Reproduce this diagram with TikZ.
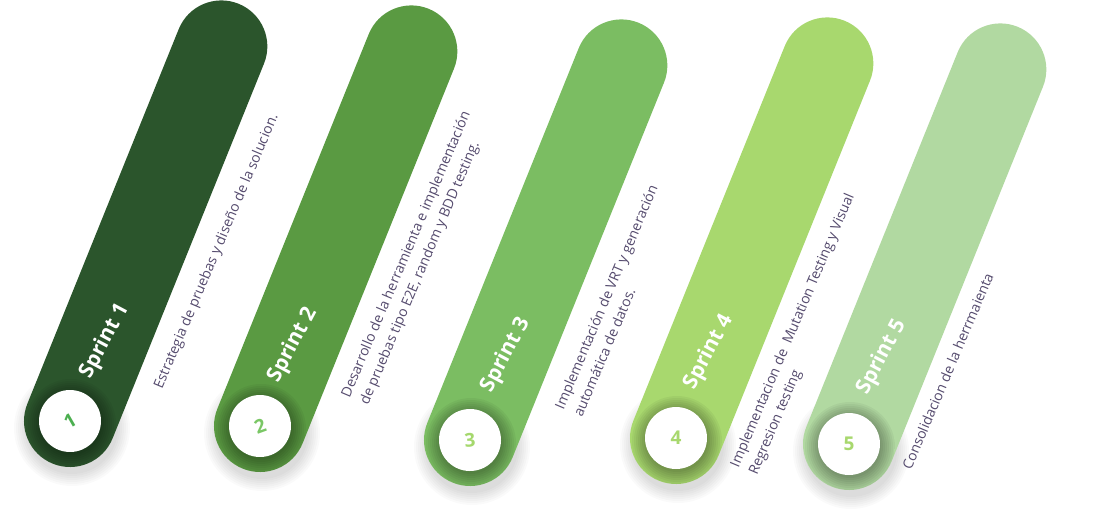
\documentclass[tikz,border=0pt]{standalone}
\usepackage{fontspec}
\setmainfont{Open Sans}
\usetikzlibrary{calc}
\definecolor{pillA}{HTML}{2B552C}
\definecolor{pillB}{HTML}{5A9A42}
\definecolor{pillC}{HTML}{7BBD62}
\definecolor{pillD}{HTML}{A8D86E}
\definecolor{pillE}{HTML}{B1D9A1}
\definecolor{numA}{HTML}{4CAF50}
\definecolor{numB}{HTML}{7AC765}
\definecolor{numC}{HTML}{A5D86D}
\definecolor{desctext}{RGB}{85,75,110}
\tikzset{
  pillbox/.style={rectangle, rounded corners=46pt, minimum width=496pt, minimum height=92pt,
    inner sep=0pt, rotate=68, draw=none},
  numcircle/.style={circle, fill=white, minimum size=62pt, inner sep=0pt,
    font=\fontsize{19}{19}\selectfont\bfseries},
  sprintlabel/.style={text=white, font=\fontsize{21}{21}\selectfont\bfseries, rotate=62, inner sep=0pt},
  desc/.style={text=desctext, font=\fontsize{14}{20}\selectfont, rotate=67, inner sep=0pt,
    anchor=base west, align=left},
  shadowring/.style={fill=black, fill opacity=0.045},
  outershadow/.style={fill=black, fill opacity=0.018}
}
\begin{document}
\begin{tikzpicture}[x=1pt,y=1pt]
\fill[white] (0,0) rectangle (1096,-525);
\useasboundingbox (0,0) rectangle (1096,-525);

\coordinate (b1) at (70,-421);
\coordinate (b2) at (260,-426);
\coordinate (b3) at (470,-440);
\coordinate (b4) at (676,-438);
\coordinate (b5) at (849,-444);

% soft drop shadow under the bottom caps
\foreach \i in {1,...,5}{
  \foreach \r in {46,48,...,58}
    \fill[outershadow] ($(b\i)+(2,-7)$) circle (\r);
}

% pills
\node[pillbox, fill=pillA] (p1) at ($(b1)+(68:202)$) {};
\node[pillbox, fill=pillB] (p2) at ($(b2)+(68:202)$) {};
\node[pillbox, fill=pillC] (p3) at ($(b3)+(68:202)$) {};
\node[pillbox, fill=pillD] (p4) at ($(b4)+(68:202)$) {};
\node[pillbox, fill=pillE] (p5) at ($(b5)+(68:202)$) {};

% soft shadow inside the bottom cap, around the number discs
\foreach \i in {1,...,5}{
  \begin{scope}
    \clip (b\i) circle (46);
    \foreach \r in {31,33,...,45}
      \fill[shadowring] ($(b\i)+(1,-3)$) circle (\r);
  \end{scope}
}

% number discs
\node[numcircle, text=numA, rotate=30] (n1) at (b1) {1};
\node[numcircle, text=numB, rotate=20] (n2) at (b2) {2};
\node[numcircle, text=numC, rotate=5] (n3) at (b3) {3};
\node[numcircle, text=pillD] (n4) at (b4) {4};
\node[numcircle, text=pillD] (n5) at (b5) {5};

% sprint labels
\node[sprintlabel] (s1) at (105,-341) {Sprint 1};
\node[sprintlabel] (s2) at (293,-345) {Sprint 2};
\node[sprintlabel] (s3) at (506,-355) {Sprint 3};
\node[sprintlabel] (s4) at (709,-352) {Sprint 4};
\node[sprintlabel] (s5) at (882,-357) {Sprint 5};

% descriptions (anchor = baseline start of the last line)
\node[desc] (d1) at (162,-390) {Estrategia de pruebas y diseño de la solucion.};
\node[desc] (d2) at (368,-406) {Desarrollo de la herramienta e implementación\\de pruebas tipo E2E, random y BDD testing.};
\node[desc] (d3) at (582,-418) {Implementación de VRT y generación\\automática de datos.};
\node[desc] (d4) at (757,-476) {Implementacion de\ \ Mutation Testing y Visual\\Regresion testing};
\node[desc] (d5) at (911,-471) {Consolidacion de la herrmaienta};
\end{tikzpicture}
\end{document}
